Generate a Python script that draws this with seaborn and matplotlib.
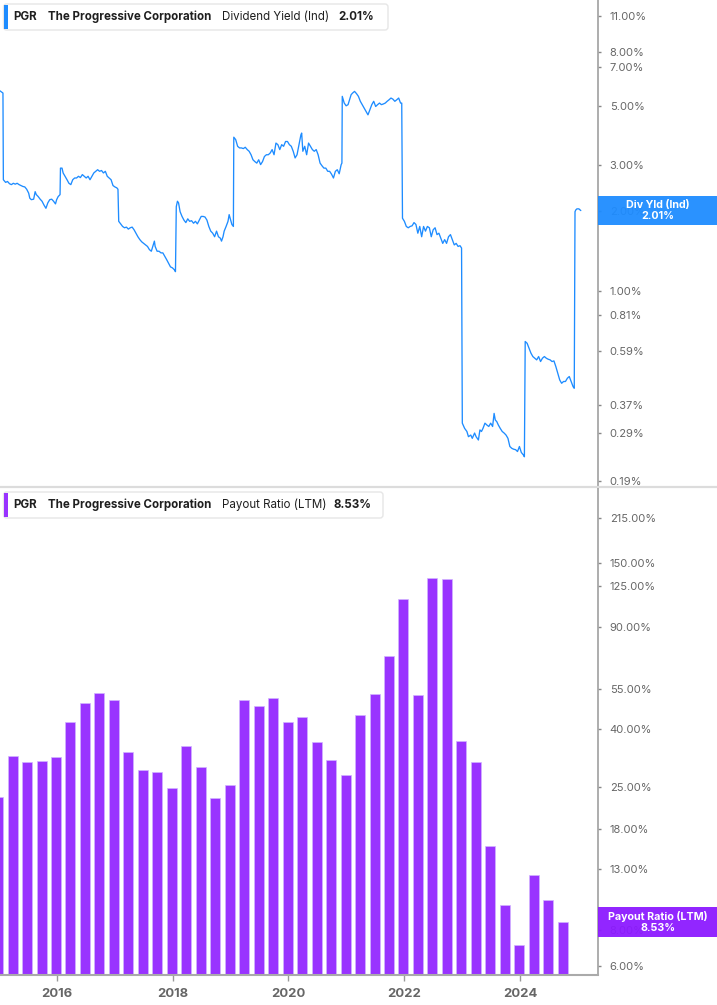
import numpy as np
import pandas as pd
import seaborn as sns
import matplotlib.pyplot as plt
from matplotlib.patches import FancyBboxPatch, Rectangle
from matplotlib.lines import Line2D
from matplotlib.ticker import NullLocator, FixedLocator
from matplotlib.transforms import IdentityTransform

sns.set_style('white')
plt.rcParams['font.family'] = ['Inter', 'DejaVu Sans']

# Dividend yield (indicated), % -- decimal year
yld_dates = [
    2015.019, 2015.072, 2015.079, 2015.118, 2015.151, 2015.185, 2015.218, 2015.251, 2015.284, 2015.317,
    2015.350, 2015.383, 2015.416, 2015.449, 2015.482, 2015.516, 2015.535, 2015.562, 2015.602, 2015.628,
    2015.648, 2015.681, 2015.714, 2015.747, 2015.780, 2015.814, 2015.847, 2015.880, 2015.913, 2015.946,
    2015.979, 2015.999, 2016.025, 2016.058, 2016.065, 2016.092, 2016.111, 2016.145, 2016.178, 2016.211,
    2016.244, 2016.277, 2016.310, 2016.343, 2016.376, 2016.409, 2016.443, 2016.476, 2016.509, 2016.542,
    2016.575, 2016.608, 2016.641, 2016.674, 2016.707, 2016.740, 2016.774, 2016.807, 2016.840, 2016.873,
    2016.906, 2016.939, 2016.972, 2017.005, 2017.038, 2017.058, 2017.071, 2017.105, 2017.138, 2017.171,
    2017.204, 2017.237, 2017.270, 2017.303, 2017.336, 2017.369, 2017.402, 2017.436, 2017.469, 2017.502,
    2017.535, 2017.568, 2017.601, 2017.634, 2017.667, 2017.687, 2017.700, 2017.734, 2017.767, 2017.800,
    2017.833, 2017.866, 2017.899, 2017.932, 2017.965, 2017.998, 2018.031, 2018.051, 2018.065, 2018.085,
    2018.104, 2018.131, 2018.164, 2018.197, 2018.230, 2018.263, 2018.296, 2018.329, 2018.363, 2018.396,
    2018.429, 2018.462, 2018.495, 2018.528, 2018.561, 2018.594, 2018.627, 2018.660, 2018.694, 2018.727,
    2018.760, 2018.793, 2018.826, 2018.846, 2018.872, 2018.892, 2018.925, 2018.958, 2018.978, 2019.005,
    2019.025, 2019.051, 2019.058, 2019.091, 2019.124, 2019.157, 2019.190, 2019.223, 2019.256, 2019.290,
    2019.323, 2019.356, 2019.389, 2019.422, 2019.455, 2019.488, 2019.521, 2019.554, 2019.587, 2019.621,
    2019.654, 2019.687, 2019.720, 2019.753, 2019.786, 2019.819, 2019.852, 2019.885, 2019.918, 2019.952,
    2019.985, 2020.018, 2020.051, 2020.084, 2020.117, 2020.150, 2020.183, 2020.217, 2020.230, 2020.250,
    2020.283, 2020.316, 2020.349, 2020.382, 2020.415, 2020.448, 2020.481, 2020.514, 2020.548, 2020.581,
    2020.614, 2020.647, 2020.680, 2020.713, 2020.746, 2020.779, 2020.812, 2020.845, 2020.878, 2020.898,
    2020.912, 2020.925, 2020.931, 2020.965, 2020.998, 2021.031, 2021.057, 2021.084, 2021.110, 2021.143,
    2021.177, 2021.210, 2021.243, 2021.276, 2021.309, 2021.342, 2021.375, 2021.408, 2021.441, 2021.474,
    2021.508, 2021.541, 2021.574, 2021.607, 2021.640, 2021.673, 2021.706, 2021.739, 2021.772, 2021.805,
    2021.839, 2021.872, 2021.905, 2021.938, 2021.958, 2021.971, 2022.004, 2022.037, 2022.070, 2022.104,
    2022.137, 2022.170, 2022.203, 2022.236, 2022.269, 2022.302, 2022.335, 2022.368, 2022.401, 2022.435,
    2022.468, 2022.501, 2022.534, 2022.567, 2022.600, 2022.633, 2022.666, 2022.699, 2022.732, 2022.766,
    2022.799, 2022.832, 2022.865, 2022.898, 2022.931, 2022.964, 2022.991, 2023.004, 2023.044, 2023.083,
    2023.110, 2023.150, 2023.176, 2023.216, 2023.242, 2023.282, 2023.308, 2023.335, 2023.361, 2023.395,
    2023.428, 2023.461, 2023.494, 2023.527, 2023.553, 2023.573, 2023.600, 2023.626, 2023.659, 2023.693,
    2023.726, 2023.759, 2023.792, 2023.825, 2023.858, 2023.891, 2023.924, 2023.957, 2023.990, 2024.023,
    2024.057, 2024.076, 2024.090, 2024.123, 2024.156, 2024.189, 2024.222, 2024.255, 2024.288, 2024.322,
    2024.355, 2024.388, 2024.421, 2024.454, 2024.487, 2024.520, 2024.553, 2024.586, 2024.619, 2024.653,
    2024.686, 2024.719, 2024.752, 2024.785, 2024.818, 2024.851, 2024.884, 2024.917, 2024.937, 2024.950,
    2024.963, 2024.983, 2025.017, 2025.050,
]
yld_values = [
    5.71, 5.60, 2.63, 2.57, 2.59, 2.54, 2.52, 2.55, 2.53, 2.55,
    2.52, 2.50, 2.48, 2.47, 2.42, 2.34, 2.24, 2.21, 2.22, 2.37,
    2.31, 2.27, 2.22, 2.18, 2.11, 2.05, 2.15, 2.21, 2.22, 2.18,
    2.13, 2.21, 2.27, 2.31, 2.91, 2.91, 2.79, 2.71, 2.63, 2.55,
    2.52, 2.63, 2.67, 2.67, 2.71, 2.68, 2.75, 2.71, 2.67, 2.71,
    2.63, 2.71, 2.79, 2.83, 2.87, 2.83, 2.85, 2.79, 2.83, 2.71,
    2.67, 2.63, 2.50, 2.47, 2.45, 2.42, 1.83, 1.79, 1.75, 1.73,
    1.74, 1.71, 1.73, 1.74, 1.70, 1.65, 1.60, 1.56, 1.53, 1.51,
    1.49, 1.47, 1.43, 1.41, 1.49, 1.54, 1.47, 1.41, 1.41, 1.39,
    1.39, 1.35, 1.31, 1.27, 1.23, 1.22, 1.20, 1.18, 2.08, 2.18,
    2.15, 1.99, 1.91, 1.85, 1.81, 1.87, 1.83, 1.84, 1.80, 1.83,
    1.79, 1.85, 1.91, 1.91, 1.90, 1.85, 1.75, 1.68, 1.65, 1.60,
    1.68, 1.60, 1.58, 1.54, 1.60, 1.68, 1.75, 1.83, 1.94, 1.85,
    1.78, 1.75, 3.81, 3.73, 3.52, 3.47, 3.47, 3.45, 3.49, 3.42,
    3.37, 3.27, 3.13, 3.08, 3.04, 3.13, 3.00, 3.08, 3.22, 3.27,
    3.27, 3.32, 3.42, 3.27, 3.62, 3.57, 3.42, 3.57, 3.52, 3.67,
    3.67, 3.57, 3.52, 3.37, 3.18, 3.27, 3.57, 3.89, 3.95, 3.37,
    3.52, 3.27, 3.62, 3.52, 3.42, 3.37, 3.42, 3.27, 3.04, 2.97,
    2.91, 2.91, 2.83, 2.83, 2.76, 2.67, 2.83, 2.87, 2.77, 2.91,
    3.00, 3.04, 5.44, 5.13, 5.01, 5.06, 5.28, 5.52, 5.60, 5.68,
    5.57, 5.44, 5.21, 5.06, 4.91, 4.77, 4.63, 4.84, 5.06, 5.21,
    4.98, 5.06, 5.13, 5.06, 5.09, 5.13, 5.21, 5.28, 5.36, 5.31,
    5.21, 5.28, 5.36, 5.13, 5.13, 1.88, 1.83, 1.75, 1.73, 1.75,
    1.76, 1.81, 1.78, 1.65, 1.75, 1.60, 1.75, 1.68, 1.75, 1.73,
    1.60, 1.70, 1.73, 1.63, 1.65, 1.58, 1.51, 1.56, 1.51, 1.60,
    1.63, 1.56, 1.49, 1.51, 1.47, 1.48, 1.45, 0.315, 0.301, 0.293,
    0.280, 0.284, 0.276, 0.289, 0.280, 0.272, 0.297, 0.293, 0.301, 0.315,
    0.310, 0.306, 0.315, 0.306, 0.343, 0.324, 0.319, 0.310, 0.301, 0.293,
    0.289, 0.284, 0.276, 0.257, 0.253, 0.251, 0.250, 0.246, 0.257, 0.244,
    0.239, 0.235, 0.642, 0.632, 0.605, 0.580, 0.563, 0.555, 0.547, 0.563,
    0.539, 0.555, 0.563, 0.555, 0.550, 0.547, 0.539, 0.542, 0.516, 0.487,
    0.459, 0.446, 0.453, 0.453, 0.466, 0.473, 0.453, 0.433, 0.427, 1.99,
    2.02, 2.04, 2.04, 2.01,
]

# Payout ratio (LTM), %, quarter ends
payout_quarters = [
    '2014-12', '2015-03', '2015-06', '2015-09', '2015-12', '2016-03', '2016-06', '2016-09',
    '2016-12', '2017-03', '2017-06', '2017-09', '2017-12', '2018-03', '2018-06', '2018-09',
    '2018-12', '2019-03', '2019-06', '2019-09', '2019-12', '2020-03', '2020-06', '2020-09',
    '2020-12', '2021-03', '2021-06', '2021-09', '2021-12', '2022-03', '2022-06', '2022-09',
    '2022-12', '2023-03', '2023-06', '2023-09', '2023-12', '2024-03', '2024-06', '2024-09',
]
payout_values = [
    23.2, 32.2, 30.6, 30.9, 31.9, 42.3, 49.1, 53.2,
    50.4, 33.1, 28.8, 28.4, 24.9, 34.9, 29.5, 22.9,
    25.6, 50.3, 47.9, 51.1, 42.2, 44.0, 36.0, 31.2,
    27.7, 44.7, 52.9, 71.3, 112.6, 52.2, 133.7, 132.7,
    36.2, 30.7, 15.6, 9.8, 7.1, 12.4, 10.2, 8.53,
]

yld_ticks = [0.19, 0.29, 0.37, 0.59, 0.81, 1.0, 2.0, 3.0, 5.0, 7.0, 8.0, 11.0]
payout_ticks = [6, 8, 13, 18, 25, 40, 55, 90, 125, 150, 215]
year_ticks = [2016, 2018, 2020, 2022, 2024]

BLUE = '#1e8cff'
PURPLE = '#9933ff'
W, H = 717, 1005

periods = pd.to_datetime(payout_quarters, format='%Y-%m')
bar_x = (periods.year + periods.month / 12 - 0.012).to_numpy()
bars = pd.DataFrame({'x': bar_x, 'payout': payout_values})
line = pd.DataFrame({'x': yld_dates, 'yld': yld_values})

fig = plt.figure(figsize=(W / 100, H / 100), dpi=100)
ax1 = fig.add_axes([0, 1 - 488 / H, 598 / W, 488 / H])
ax2 = fig.add_axes([0, 1 - 975 / H, 598 / W, 486 / H])

# top panel: dividend yield
sns.lineplot(data=line, x='x', y='yld', ax=ax1, color=BLUE, linewidth=0.95,
             estimator=None, sort=False)
ax1.set_yscale('log')
ax1.set_ylim(0.179, 12.6)
ax1.set_xlim(2015.021, 2025.347)

# bottom panel: payout ratio
sns.barplot(data=bars, x='x', y='payout', ax=ax2, native_scale=True, width=0.69,
            color=PURPLE, saturation=1, edgecolor='#d2b4ff', linewidth=0.5)
ax2.set_yscale('log')
ax2.set_ylim(5.58, 272)
ax2.set_xlim(2015.021, 2025.347)

for ax, ticks in [(ax1, yld_ticks), (ax2, payout_ticks)]:
    ax.yaxis.tick_right()
    ax.yaxis.set_major_locator(FixedLocator(ticks))
    ax.yaxis.set_minor_locator(NullLocator())
    ax.set_yticklabels([f'{t:.2f}%' for t in ticks])
    ax.tick_params(axis='y', length=2.5, width=1, pad=6, labelsize=8.0,
                   color='#888888', labelcolor='#666666')
    ax.set_xlabel('')
    ax.set_ylabel('')
    for s in ['top', 'left', 'bottom']:
        ax.spines[s].set_visible(False)
    ax.spines['right'].set_color('#a0a0a0')
    ax.spines['right'].set_linewidth(1.2)
    ax.xaxis.set_minor_locator(NullLocator())

ax1.set_xticks([])
ax2.spines['bottom'].set_visible(True)
ax2.spines['bottom'].set_color('#aaaaaa')
ax2.spines['bottom'].set_linewidth(1.5)
ax2.set_xticks(year_ticks)
ax2.set_xticklabels([str(y) for y in year_ticks], fontweight='bold')
ax2.tick_params(axis='x', length=4, width=1, color='#999999', labelcolor='#666666',
                labelsize=9.4, pad=5, bottom=True)

# separator between panels
fig.add_artist(Line2D([0, 1], [1 - 487.5 / H] * 2, transform=fig.transFigure,
                      color='#dcdcdc', lw=1.6, zorder=6))


def legend_box(top, bottom, right, color, metric, value):
    fig.add_artist(FancyBboxPatch((3.5, H - bottom), right - 3.5, bottom - top,
                                  boxstyle='round,pad=0,rounding_size=3',
                                  transform=IdentityTransform(), facecolor='white',
                                  edgecolor='#e6e6e6', lw=1, zorder=7))
    fig.add_artist(Rectangle((3.5, H - bottom + 1), 4, bottom - top - 2,
                             transform=IdentityTransform(), facecolor=color,
                             edgecolor='none', zorder=8))
    yc = 1 - (top + bottom) / 2 / H
    kw = dict(va='center', ha='left', fontsize=8.3, color='#1f1f1f', zorder=9)
    fig.text(13.5 / W, yc, 'PGR', fontweight='bold', **kw)
    fig.text(47.5 / W, yc, 'The Progressive Corporation', fontweight='bold', **kw)
    fig.text(222 / W, yc, metric, **kw)
    fig.text(value[1] / W, yc, value[0], fontweight='bold', **kw)


legend_box(4, 30, 388, BLUE, 'Dividend Yield (Ind)', ('2.01%', 338))
legend_box(492, 518, 383, PURPLE, 'Payout Ratio (LTM)', ('8.53%', 334))


def value_tag(ax, val, color, title):
    fig.canvas.draw()
    yd = ax.transData.transform((2020, val))[1]
    fig.add_artist(Rectangle((598, yd - 14.7), 119, 29.4, transform=IdentityTransform(),
                             facecolor=color, edgecolor='none', alpha=0.95, zorder=10))
    fig.text(658 / W, (yd + 5.3) / H, title, ha='center', va='center', color='white',
             fontweight='bold', fontsize=7.7, zorder=11)
    fig.text(658 / W, (yd - 5.6) / H, f'{val:.2f}%', ha='center', va='center',
             color='white', fontweight='bold', fontsize=7.7, zorder=11)


value_tag(ax1, yld_values[-1], BLUE, 'Div Yld (Ind)')
value_tag(ax2, payout_values[-1], '#8c1aff', 'Payout Ratio (LTM)')

fig.savefig('out.png', dpi=100)
